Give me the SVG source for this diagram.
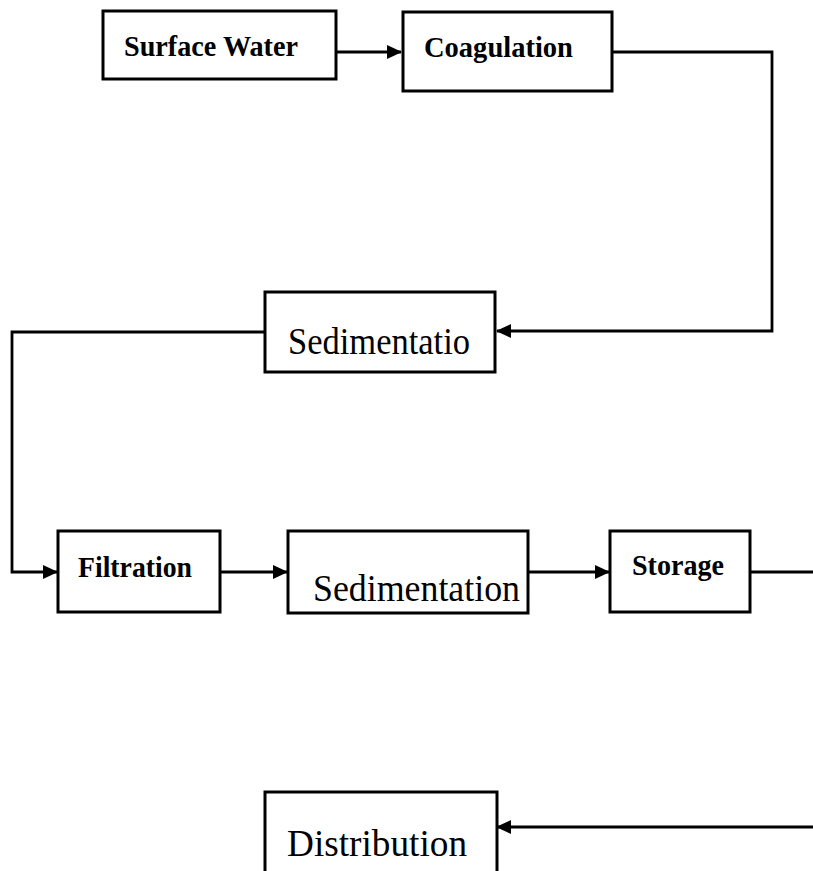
<svg xmlns="http://www.w3.org/2000/svg" width="813" height="871" viewBox="0 0 813 871">
<defs>
<style>
.box{fill:#fff;stroke:#000;stroke-width:3}
.ln{fill:none;stroke:#000;stroke-width:2.8}
.b{font-family:"Liberation Serif","Times New Roman",serif;font-weight:bold;font-size:29px;fill:#000}
.n{font-family:"Liberation Serif","Times New Roman",serif;font-size:37px;fill:#000}
</style>
<marker id="ahl" markerWidth="15" markerHeight="14" refX="14" refY="7" orient="auto" markerUnits="userSpaceOnUse" viewBox="0 0 15 14">
<path d="M0,0 L15,7 L0,14 Z" fill="#000"/>
</marker>
</defs>
<g id="connectors">
<path class="ln" d="M336,52 L401,52" marker-end="url(#ahl)"/>
<path class="ln" d="M612,52 L772,52 L772,331 L497,331" marker-end="url(#ahl)"/>
<path class="ln" d="M265,332 L12,332 L12,572 L57,572" marker-end="url(#ahl)"/>
<path class="ln" d="M220,572 L287,572" marker-end="url(#ahl)"/>
<path class="ln" d="M528,572 L609,572" marker-end="url(#ahl)"/>
<path class="ln" d="M750,572 L813,572"/>
<path class="ln" d="M813,827 L497,827" marker-end="url(#ahl)"/>
</g>
<g id="surface-water">
<rect class="box" x="103" y="11" width="233" height="68"/>
<text class="b" x="124" y="56" textLength="174" lengthAdjust="spacingAndGlyphs">Surface Water</text>
</g>
<g id="coagulation">
<rect class="box" x="403" y="12" width="209" height="79"/>
<text class="b" x="424" y="57" textLength="149" lengthAdjust="spacingAndGlyphs">Coagulation</text>
</g>
<g id="sedimentatio">
<rect class="box" x="265" y="292" width="230" height="80"/>
<text class="n" x="288" y="354" textLength="182" lengthAdjust="spacingAndGlyphs">Sedimentatio</text>
</g>
<g id="filtration">
<rect class="box" x="58" y="531" width="162" height="81"/>
<text class="b" x="78" y="577" textLength="114" lengthAdjust="spacingAndGlyphs">Filtration</text>
</g>
<g id="sedimentation">
<rect class="box" x="288" y="531" width="240" height="82"/>
<text class="n" x="313" y="601" textLength="207" lengthAdjust="spacingAndGlyphs">Sedimentation</text>
</g>
<g id="storage">
<rect class="box" x="610" y="531" width="140" height="81"/>
<text class="b" x="632" y="575" textLength="92" lengthAdjust="spacingAndGlyphs">Storage</text>
</g>
<g id="distribution">
<rect class="box" x="265" y="792" width="232" height="82"/>
<text class="n" x="287" y="856" textLength="180" lengthAdjust="spacingAndGlyphs">Distribution</text>
</g>
</svg>
